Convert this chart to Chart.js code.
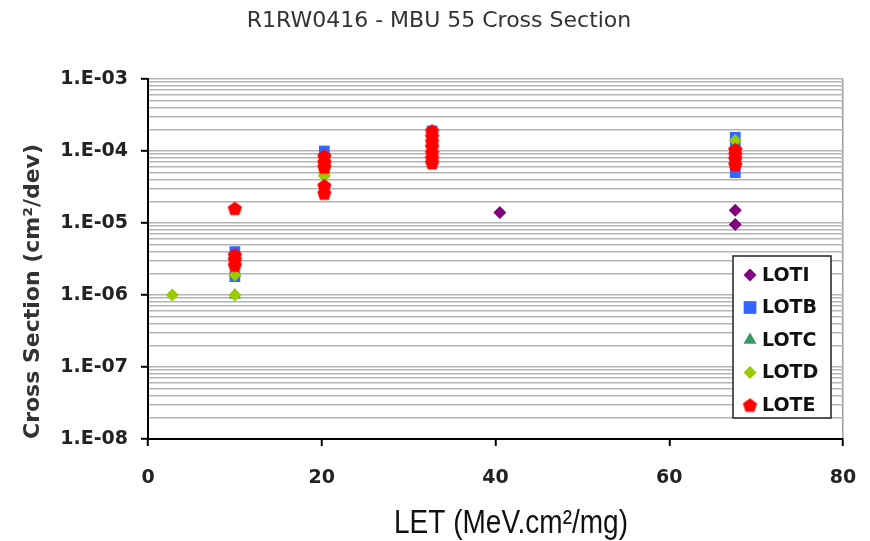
<!DOCTYPE html>
<html>
<head>
<meta charset="utf-8">
<title>R1RW0416 - MBU 55 Cross Section</title>
<script src="https://cdn.jsdelivr.net/npm/chart.js@4.4.1/dist/chart.umd.min.js"></script>
<style>
  html, body { margin: 0; padding: 0; background: #fff; }
  #wrap { width: 870px; height: 541px; position: relative; }
</style>
</head>
<body>
<div id="wrap"><canvas id="chart"></canvas></div>
<script>
// values: [LET, cross section]
const lotI = [[40.5, 1.4e-5], [67.6, 1.5e-5], [67.6, 9.5e-6]];
const lotB = [[10, 4e-6], [10, 1.8e-6], [20.3, 1e-4], [20.3, 7e-5], [32.7, 1.9e-4],
              [67.6, 1.55e-4], [67.6, 1.2e-4], [67.6, 5e-5]];
const lotC = [[10, 2e-6], [10, 1e-6], [20.3, 5e-5], [32.7, 1.5e-4], [67.6, 1.2e-4]];
const lotD = [[2.8, 1e-6], [10, 1.9e-6], [10, 1e-6], [20.3, 5e-5], [20.3, 4.5e-5],
              [32.7, 1.2e-4], [67.6, 1.4e-4]];
const lotE = [[10, 1.6e-5], [10, 3.6e-6], [10, 3.1e-6], [10, 2.6e-6],
              [20.3, 8.5e-5], [20.3, 7e-5], [20.3, 6e-5], [20.3, 3.3e-5], [20.3, 2.6e-5],
              [32.7, 1.9e-4], [32.7, 1.6e-4], [32.7, 1.35e-4], [32.7, 1.15e-4],
              [32.7, 9.5e-5], [32.7, 8e-5], [32.7, 6.9e-5],
              [67.6, 1.05e-4], [67.6, 9e-5], [67.6, 7.8e-5], [67.6, 6.5e-5]];

const seriesNames = ['LOTI', 'LOTB', 'LOTC', 'LOTD', 'LOTE'];
const seriesColors = ['#800080', '#3366ff', '#339966', '#99cc00', '#ff0000'];

const xTicks = [0, 20, 40, 60, 80];
const yDecades = [-8, -7, -6, -5, -4, -3];
const yMinorSteps = [1, 2, 3, 4, 5, 6, 7, 8, 9];

const chartTitle = 'R1RW0416 - MBU 55 Cross Section';
const xTitle = 'LET (MeV.cm²/mg)';
const yTitle = 'Cross Section (cm²/dev)';

const fontFamily = '"DejaVu Sans", sans-serif';

// red marker is a little pentagon, chart.js has none so make one
function pentagon(color, r) {
  const c = document.createElement('canvas');
  const s = Math.ceil(r * 2) + 2;
  c.width = s;
  c.height = s;
  const g = c.getContext('2d');
  g.fillStyle = color;
  g.beginPath();
  for (let i = 0; i < 5; i++) {
    const a = -Math.PI / 2 + i * 2 * Math.PI / 5;
    const px = s / 2 + r * Math.cos(a);
    const py = s / 2 + r * Math.sin(a) + r * 0.1;
    if (i === 0) g.moveTo(px, py); else g.lineTo(px, py);
  }
  g.closePath();
  g.fill();
  return c;
}

const redPentagon = pentagon(seriesColors[4], 7.5);
const pointStyles = ['rectRot', 'rect', 'triangle', 'rectRot', redPentagon];
const pointSizes = [6.5, 7.6, 7, 6.5, 7.5];
const legendSizes = [6.5, 9, 7.5, 6.5, 7.5];

const toPoints = (arr) => arr.map(([x, y]) => ({x: x, y: y}));
const allSeries = [lotI, lotB, lotC, lotD, lotE];

const datasets = allSeries.map((s, i) => ({
  label: seriesNames[i],
  data: toPoints(s),
  pointStyle: pointStyles[i],
  pointRadius: pointSizes[i],
  pointBackgroundColor: seriesColors[i],
  pointBorderWidth: 0,
  order: 5 - i, // later lots are drawn on top
}));

const fmtExp = (v) => {
  const e = Math.round(Math.log10(v));
  return '1.E' + (e < 0 ? '-' : '+') + String(Math.abs(e)).padStart(2, '0');
};

// legend box inside the plot + the big axis title below
const extras = {
  id: 'extras',
  afterDraw(chart) {
    const ctx = chart.ctx;
    const ca = chart.chartArea;
    const left = ca.right - 110;
    const top = ca.bottom - 183;
    ctx.save();
    ctx.fillStyle = '#fff';
    ctx.fillRect(left, top, 98, 162);
    ctx.strokeStyle = '#222';
    ctx.lineWidth = 1.5;
    ctx.strokeRect(left, top, 98, 162);
    ctx.font = 'bold 19px ' + fontFamily;
    ctx.textBaseline = 'middle';
    ctx.textAlign = 'left';
    seriesNames.forEach((name, i) => {
      const y = top + 19 + i * 32.5;
      ctx.fillStyle = seriesColors[i];
      Chart.helpers.drawPoint(ctx, {
        pointStyle: pointStyles[i], radius: legendSizes[i], rotation: 0, borderWidth: 0,
      }, left + 17, y);
      ctx.fillStyle = '#111';
      ctx.fillText(name, left + 29, y + 1);
    });

    ctx.font = '33px "Liberation Sans", Arial, sans-serif';
    ctx.fillStyle = '#111';
    ctx.textAlign = 'center';
    ctx.fillText(xTitle, ca.left + 363, 524, 234);
    ctx.restore();
  },
};

new Chart(document.getElementById('chart'), {
  type: 'scatter',
  data: {datasets: datasets},
  options: {
    responsive: true,
    maintainAspectRatio: false,
    animation: false,
    layout: {padding: {left: 8, right: 0, top: 0, bottom: 0}},
    plugins: {
      legend: {display: false},
      tooltip: {enabled: false},
      title: {
        display: true,
        text: chartTitle,
        color: '#333',
        font: {family: fontFamily, size: 22, weight: 'normal'},
        padding: {top: 8, bottom: 44.6},
      },
    },
    scales: {
      x: {
        type: 'linear',
        min: 0,
        max: 80,
        afterBuildTicks: (s) => { s.ticks = xTicks.map((v) => ({value: v})); },
        afterFit: (s) => { s.height = 102; s.paddingRight = 27; },
        ticks: {
          autoSkip: false,
          padding: 21,
          color: '#222',
          font: {family: fontFamily, size: 19, weight: 'bold'},
        },
        grid: {
          color: (c) => (c.tick && c.tick.value === 80 ? '#a0a0a0' : 'rgba(0,0,0,0)'),
          lineWidth: 1.5,
          tickColor: '#000',
          tickLength: 7,
          tickWidth: 2,
        },
        border: {color: '#000', width: 2},
      },
      y: {
        type: 'logarithmic',
        min: 1e-8,
        max: 1e-3,
        afterBuildTicks: (s) => {
          const ticks = [];
          yDecades.forEach((e, i) => {
            yMinorSteps.forEach((m) => {
              if (i === yDecades.length - 1 && m > 1) return;
              ticks.push({value: m * Math.pow(10, e), major: m === 1});
            });
          });
          s.ticks = ticks;
        },
        afterFit: (s) => { s.width = 140; },
        ticks: {
          autoSkip: false,
          padding: 13,
          color: '#222',
          font: {family: fontFamily, size: 19, weight: 'bold'},
          callback: (value, index, ticks) => (ticks[index].major ? fmtExp(value) : ''),
        },
        grid: {
          color: '#b4b4b4',
          lineWidth: 1.6,
          tickLength: 7,
          tickWidth: 2,
          tickColor: (c) => (c.tick && c.tick.major ? '#000' : 'rgba(0,0,0,0)'),
        },
        border: {color: '#000', width: 2},
        title: {
          display: true,
          text: yTitle,
          align: 'start',
          color: '#333',
          font: {family: fontFamily, size: 22, weight: 'bold'},
          padding: {top: 12, bottom: 0},
        },
      },
    },
  },
  plugins: [extras],
});
</script>
</body>
</html>
